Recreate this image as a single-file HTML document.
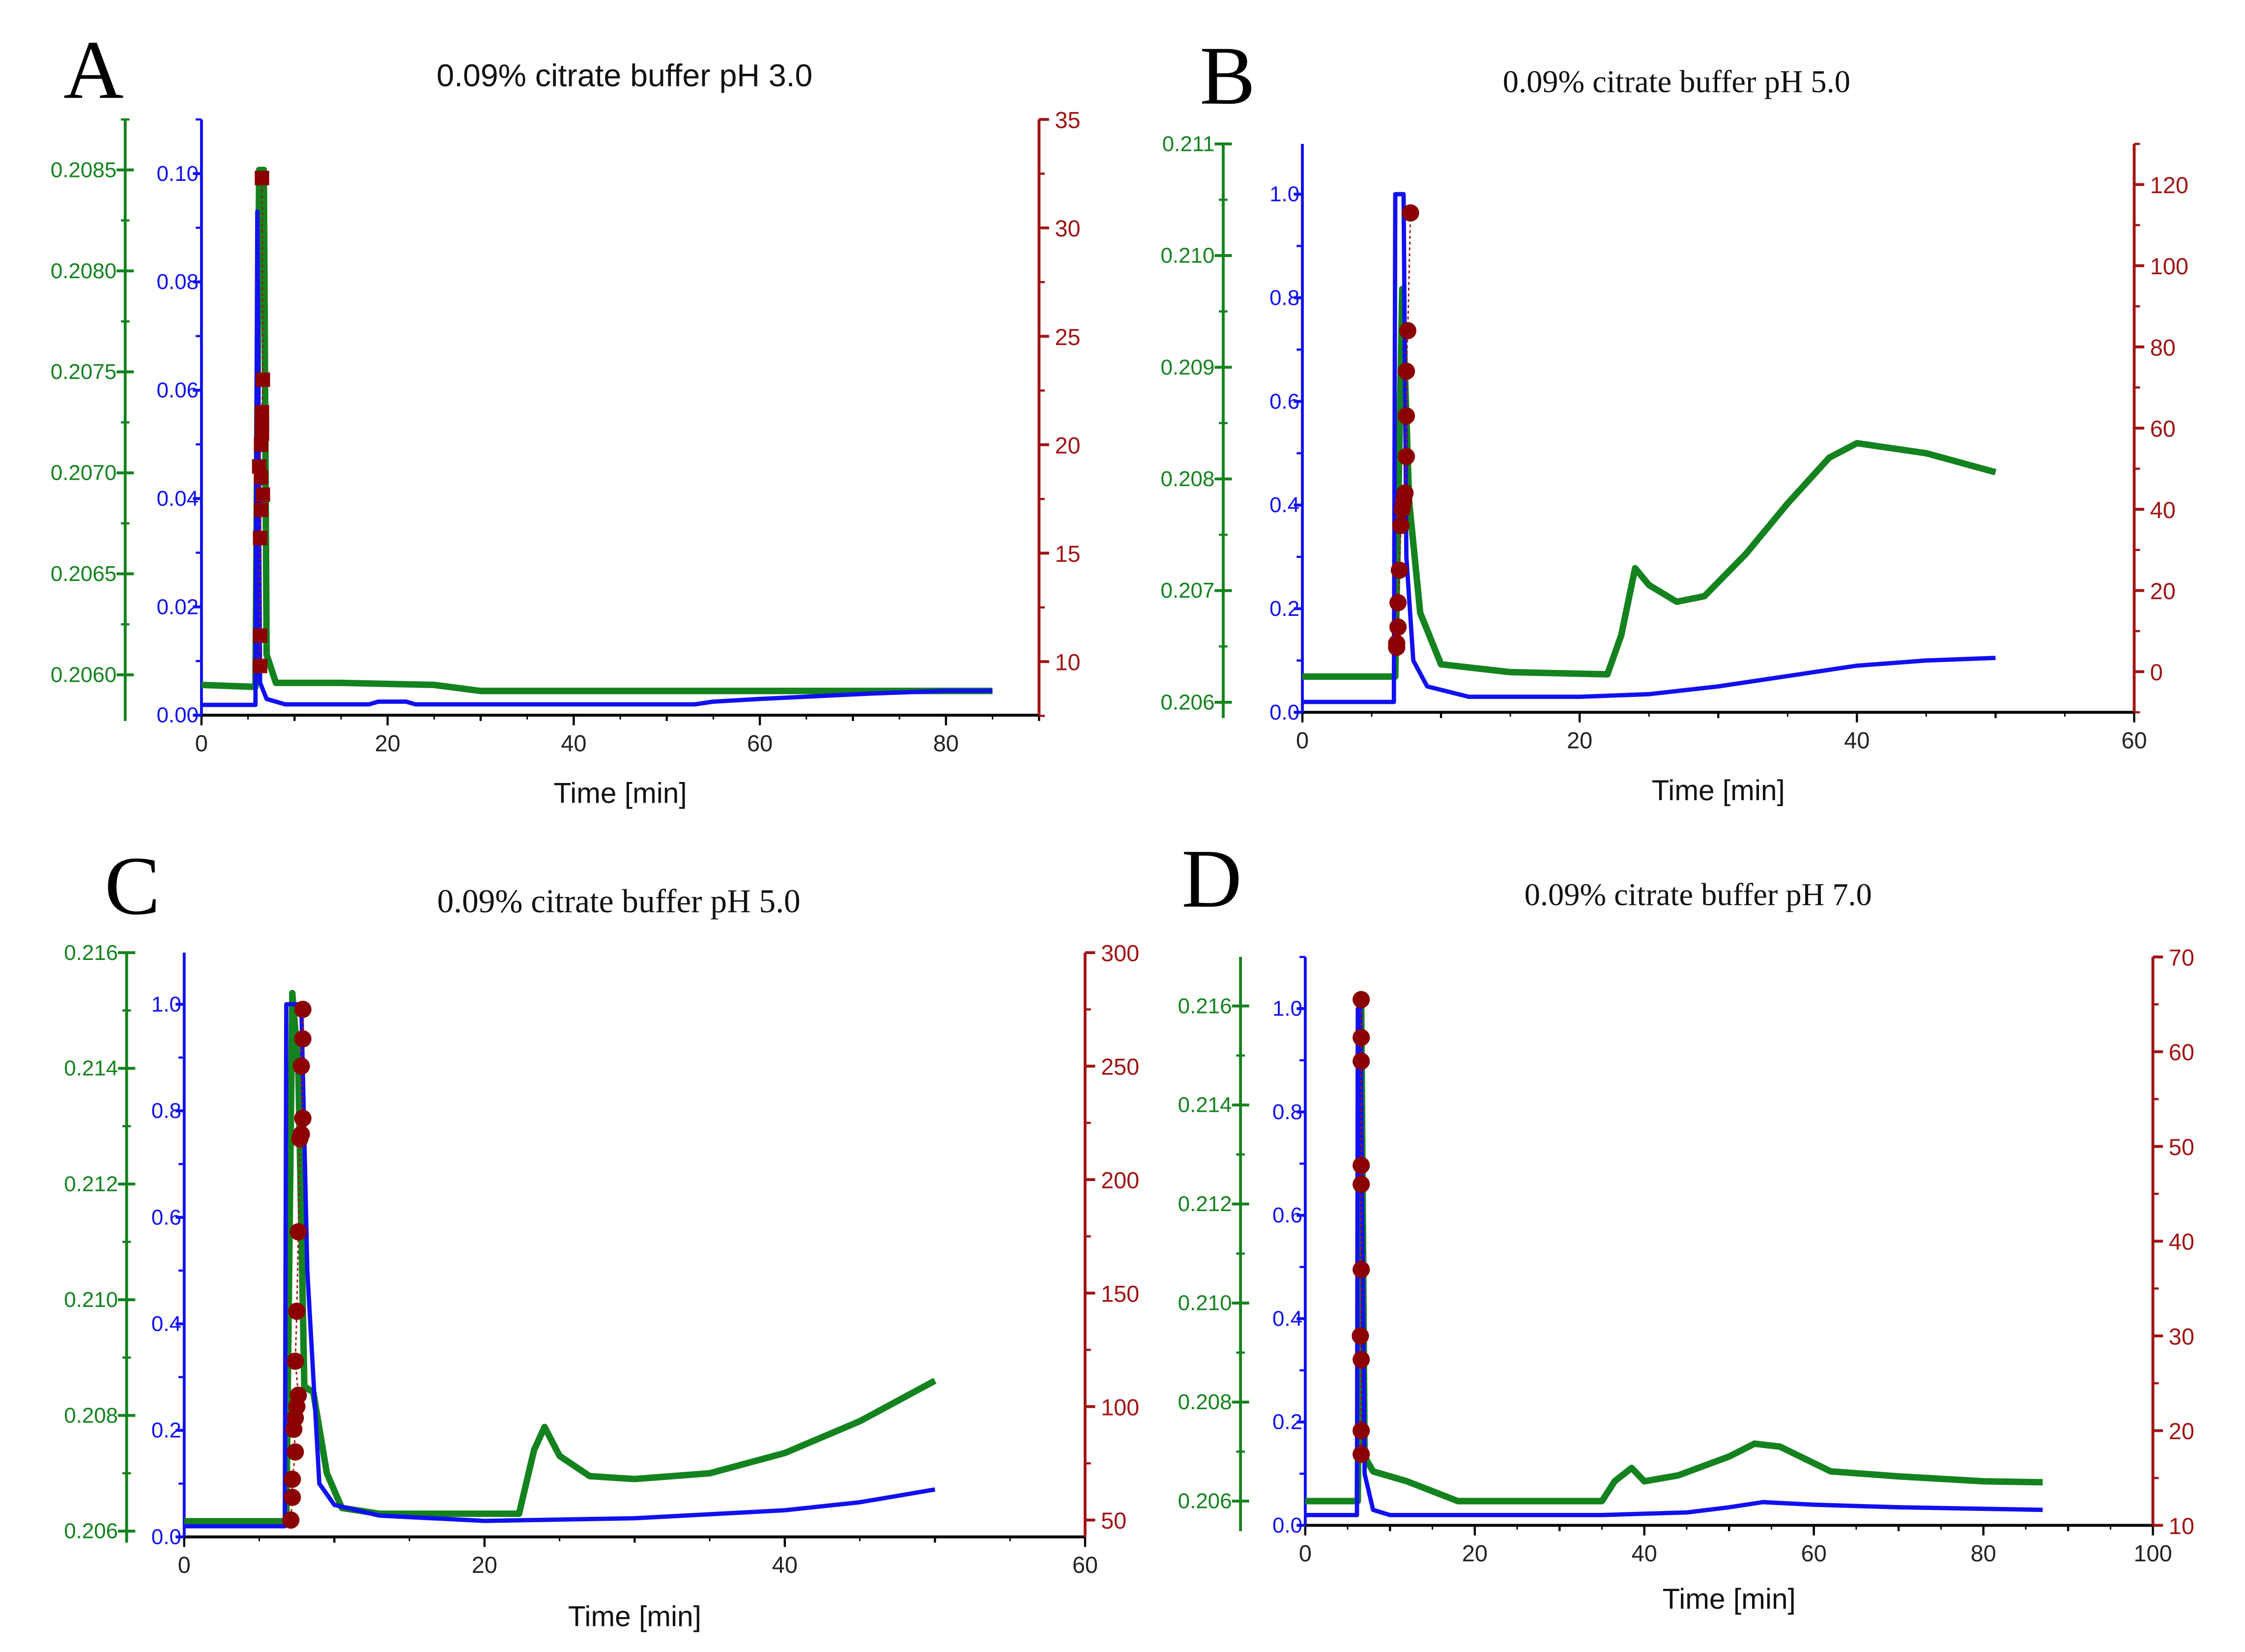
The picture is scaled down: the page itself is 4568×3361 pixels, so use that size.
<!DOCTYPE html>
<html><head><meta charset="utf-8">
<style>html,body{margin:0;padding:0;background:#fff}svg{display:block}</style>
</head><body>
<svg id="fig" xmlns="http://www.w3.org/2000/svg" width="4568" height="3361" viewBox="0 0 1560 1148" preserveAspectRatio="none"></svg>
<script>
// ---------- data (time [min], value) ----------
const A_blue=[[0,0.0019],[5.8,0.0019],[6,0.093],[6.3,0.006],[7,0.003],[9,0.002],[18,0.002],[19,0.0025],[22,0.0025],[23,0.002],[53,0.002],[55,0.0025],[60,0.003],[66,0.0035],[72,0.004],[80,0.0045],[85,0.0045]];
const A_green=[[0,0.20595],[5.8,0.20594],[6.2,0.2085],[6.7,0.2085],[7,0.2061],[8,0.20596],[15,0.20596],[25,0.20595],[30,0.20592],[85,0.20592]];
const A_red_t=[6.5,6.6,6.5,6.5,6.5,6.4,6.2,6.4,6.6,6.4,6.3,6.3,6.3];
const A_red_v=[32.3,23,21.5,21,20.5,20,19,18.5,17.7,17,15.7,11.2,9.8];

const B_blue=[[0,0.02],[6.6,0.02],[6.7,1.0],[7.3,1.0],[7.5,0.3],[8,0.1],[9,0.05],[12,0.03],[20,0.03],[25,0.035],[30,0.05],[35,0.07],[40,0.09],[45,0.1],[50,0.105]];
const B_green=[[0,0.20623],[6.7,0.20623],[7.2,0.2097],[7.7,0.2078],[8.5,0.2068],[10,0.20634],[15,0.20627],[22,0.20625],[23,0.2066],[24,0.2072],[25,0.20705],[27,0.2069],[29,0.20695],[32,0.20733],[35,0.20778],[38,0.20819],[40,0.20832],[45,0.20823],[50,0.20806]];
const B_red_t=[7.8,7.6,7.5,7.5,7.5,7.4,7.3,7.2,7.1,7.0,6.9,6.9,6.8,6.8];
const B_red_v=[113,84,74,63,53,44,42,40,36,25,17,11,7,6];

const C_blue=[[0,0.02],[6.7,0.02],[6.8,1.0],[7.8,1.0],[8.2,0.5],[9,0.1],[10,0.06],[13,0.04],[20,0.03],[30,0.035],[40,0.05],[45,0.065],[50,0.089]];
const C_green=[[0,0.20617],[6.8,0.20617],[7.2,0.2153],[7.6,0.214],[8,0.2085],[8.6,0.2084],[9.5,0.207],[10.5,0.2064],[13,0.2063],[22.3,0.2063],[23.3,0.2074],[24,0.2078],[25,0.2073],[27,0.20695],[30,0.2069],[35,0.207],[40,0.20735],[45,0.2079],[50,0.2086]];
const C_red_t=[7.9,7.9,7.8,7.9,7.8,7.7,7.6,7.5,7.4,7.6,7.5,7.4,7.3,7.4,7.2,7.2,7.1];
const C_red_v=[275,262,250,227,220,218,177,142,120,105,100,95,90,80,68,60,50];

const D_blue=[[0,0.02],[6.1,0.02],[6.2,1.0],[6.5,1.0],[7,0.1],[8,0.03],[10,0.02],[35,0.02],[45,0.025],[50,0.035],[54,0.045],[60,0.04],[70,0.035],[87,0.03]];
const D_green=[[0,0.2060],[6.2,0.2060],[6.6,0.2161],[7,0.2069],[8,0.2066],[12,0.2064],[18,0.206],[35,0.206],[36.5,0.2064],[38.5,0.20667],[40,0.2064],[44,0.20652],[50,0.2069],[53,0.20716],[56,0.2071],[62,0.2066],[70,0.2065],[80,0.2064],[87,0.20638]];
const D_red_t=[6.6,6.6,6.6,6.6,6.6,6.6,6.5,6.6,6.6,6.6];
const D_red_v=[65.5,61.5,59,48,46,37,30,27.5,20,17.5];

// ---------- layout ----------
const panels=[
 {id:'a',letter:'A',lx:65,ly:68,lsize:58,title:'0.09% citrate buffer pH 3.0',tx:434,ty:60,tfont:'"Liberation Sans",sans-serif',tsize:22,
  x0:140,x1:722,xmin:0,xmax:90,xmaj:20,xlab:[0,20,40,60,80],xminor:10,top:83,bot:497,
  bmin:0,bmax:0.11,bticks:[0,0.02,0.04,0.06,0.08,0.10],bdec:2,bminor:0.01,
  gx:87,gmin:0.20580,gmax:0.20875,gticks:[0.2060,0.2065,0.2070,0.2075,0.2080,0.2085],gdec:4,gminor:0.00025,
  rmin:7.53,rmax:35,rticks:[10,15,20,25,30,35],rminor:2.5,
  blue:A_blue,green:A_green,rt:A_red_t,rv:A_red_v,sq:true,xtitleY:558},
 {id:'b',letter:'B',lx:853,ly:72,lsize:58,title:'0.09% citrate buffer pH 5.0',tx:1165,ty:64,tfont:'"Liberation Serif",serif',tsize:22,
  x0:905,x1:1483,xmin:0,xmax:60,xmaj:20,xlab:[0,20,40,60],xminor:10,top:100,bot:495,
  bmin:0,bmax:1.097,bticks:[0,0.2,0.4,0.6,0.8,1.0],bdec:1,bminor:0.1,
  gx:850,gmin:0.20591,gmax:0.2110,gticks:[0.206,0.207,0.208,0.209,0.210,0.211],gdec:3,gminor:0.0005,
  rmin:-10,rmax:130,rticks:[0,20,40,60,80,100,120],rminor:10,
  blue:B_blue,green:B_green,rt:B_red_t,rv:B_red_v,sq:false,xtitleY:556},
 {id:'c',letter:'C',lx:92,ly:635,lsize:58,title:'0.09% citrate buffer pH 5.0',tx:430,ty:634,tfont:'"Liberation Serif",serif',tsize:23,
  x0:128,x1:754,xmin:0,xmax:60,xmaj:20,xlab:[0,20,40,60],xminor:10,top:662,bot:1068,
  bmin:0,bmax:1.097,bticks:[0,0.2,0.4,0.6,0.8,1.0],bdec:1,bminor:0.1,
  gx:88,gmin:0.2059,gmax:0.216,gticks:[0.206,0.208,0.210,0.212,0.214,0.216],gdec:3,gminor:0.001,
  rmin:42.6,rmax:300,rticks:[50,100,150,200,250,300],rminor:25,
  blue:C_blue,green:C_green,rt:C_red_t,rv:C_red_v,sq:false,xtitleY:1130},
 {id:'d',letter:'D',lx:842,ly:630,lsize:58,title:'0.09% citrate buffer pH 7.0',tx:1180,ty:629,tfont:'"Liberation Serif",serif',tsize:22,
  x0:907,x1:1496,xmin:0,xmax:100,xmaj:20,xlab:[0,20,40,60,80,100],xminor:10,top:665,bot:1060,
  bmin:0,bmax:1.1,bticks:[0,0.2,0.4,0.6,0.8,1.0],bdec:1,bminor:0.1,
  gx:862,gmin:0.20551,gmax:0.21699,gticks:[0.206,0.208,0.210,0.212,0.214,0.216],gdec:3,gminor:0.001,
  rmin:10,rmax:70,rticks:[10,20,30,40,50,60,70],rminor:5,
  blue:D_blue,green:D_green,rt:D_red_t,rv:D_red_v,sq:false,xtitleY:1118}
];
const NS='http://www.w3.org/2000/svg';
const svg=document.getElementById('fig');
const BLUE='#1010f0',GREEN='#14821e',RED='#a01414',DRED='#8b0000';
function mk(tag,attrs,parent,txt){const e=document.createElementNS(NS,tag);for(const k in attrs)e.setAttribute(k,attrs[k]);if(txt!==undefined)e.textContent=txt;(parent||svg).appendChild(e);return e;}
function fmt(v,d){return v.toFixed(d);}
panels.forEach(p=>{
 const g=mk('g',{});
 
 
 const X=t=>p.x0+(t-p.xmin)/(p.xmax-p.xmin)*(p.x1-p.x0);
 const YB=v=>p.bot-(v-p.bmin)/(p.bmax-p.bmin)*(p.bot-p.top);
 const YG=v=>p.bot-(v-p.gmin)/(p.gmax-p.gmin)*(p.bot-p.top);
 const YR=v=>p.bot-(v-p.rmin)/(p.rmax-p.rmin)*(p.bot-p.top);
 const L=mk('text',{x:p.lx,y:p.ly,'text-anchor':'middle','font-family':'"Liberation Serif",serif','font-size':p.lsize,fill:'#000'},g,p.letter);
 
 
 const T=mk('text',{x:p.tx,y:p.ty,'text-anchor':'middle','font-family':p.tfont,'font-size':p.tsize,fill:'#111'},g,p.title);
 
 
 // x axis
 const xa=mk('g',{},g);
 
 
 mk('line',{x1:p.x0,y1:p.bot,x2:p.x1,y2:p.bot,stroke:'#000','stroke-width':2},xa);
 for(let t=p.xmin;t<=p.xmax+1e-9;t+=p.xminor){const maj=Math.abs(t%p.xmaj)<1e-9;mk('line',{x1:X(t),y1:p.bot,x2:X(t),y2:p.bot+(maj?7:4),stroke:'#000','stroke-width':1.5},xa);}
 for(let t=p.xmin;t<=p.xmax+1e-9;t+=p.xminor/2){mk('line',{x1:X(t),y1:p.bot,x2:X(t),y2:p.bot+3,stroke:'#000','stroke-width':1},xa);}
 p.xlab.forEach(t=>mk('text',{x:X(t),y:p.bot+25,'text-anchor':'middle','font-family':'"Liberation Sans",sans-serif','font-size':16,fill:'#222'},xa,String(t)));
 const xt=mk('text',{x:(p.x0+p.x1)/2,y:p.xtitleY,'text-anchor':'middle','font-family':'"Liberation Sans",sans-serif','font-size':20,fill:'#111'},g,'Time [min]');
 
 
 // green axis
 const ga=mk('g',{},g);
 
 
 mk('line',{x1:p.gx,y1:p.top,x2:p.gx,y2:p.bot+4,stroke:GREEN,'stroke-width':2},ga);
 for(let v=p.gticks[0]-p.gminor*4;v<=p.gmax;v+=p.gminor){const y=YG(v);if(y<p.top-1||y>p.bot+1)continue;mk('line',{x1:p.gx-3,y1:y,x2:p.gx+3,y2:y,stroke:GREEN,'stroke-width':1.5},ga);}
 p.gticks.forEach(v=>{const y=YG(v);mk('line',{x1:p.gx-6,y1:y,x2:p.gx+6,y2:y,stroke:GREEN,'stroke-width':2},ga);mk('text',{x:p.gx-6,y:y+5,'text-anchor':'end','font-family':'"Liberation Sans",sans-serif','font-size':15,fill:GREEN},ga,fmt(v,p.gdec));});
 // blue axis
 const ba=mk('g',{},g);
 
 
 mk('line',{x1:p.x0,y1:p.top,x2:p.x0,y2:p.bot,stroke:BLUE,'stroke-width':2},ba);
 for(let v=p.bmin;v<=p.bmax;v+=p.bminor){const y=YB(v);mk('line',{x1:p.x0-4,y1:y,x2:p.x0,y2:y,stroke:BLUE,'stroke-width':1.5},ba);}
 p.bticks.forEach(v=>{const y=YB(v);mk('line',{x1:p.x0-6,y1:y,x2:p.x0,y2:y,stroke:BLUE,'stroke-width':2},ba);mk('text',{x:p.x0-2,y:y+5,'text-anchor':'end','font-family':'"Liberation Sans",sans-serif','font-size':15,fill:BLUE},ba,fmt(v,p.bdec));});
 // red axis
 const ra=mk('g',{},g);
 
 
 mk('line',{x1:p.x1,y1:p.top,x2:p.x1,y2:p.bot,stroke:RED,'stroke-width':2},ra);
 for(let v=p.rticks[0]-p.rminor*2;v<=p.rmax+1e-9;v+=p.rminor){const y=YR(v);if(y<p.top-1||y>p.bot+1)continue;mk('line',{x1:p.x1,y1:y,x2:p.x1+4,y2:y,stroke:RED,'stroke-width':1.5},ra);}
 p.rticks.forEach(v=>{const y=YR(v);mk('line',{x1:p.x1,y1:y,x2:p.x1+7,y2:y,stroke:RED,'stroke-width':2},ra);mk('text',{x:p.x1+11,y:y+6,'text-anchor':'start','font-family':'"Liberation Sans",sans-serif','font-size':16,fill:RED},ra,String(v));});
 // series
 const gp=mk('polyline',{points:p.green.map(d=>X(d[0])+','+YG(d[1])).join(' '),fill:'none',stroke:GREEN,'stroke-width':4.5,'stroke-linejoin':'round'},g);
 
 
 const bp=mk('polyline',{points:p.blue.map(d=>X(d[0])+','+YB(d[1])).join(' '),fill:'none',stroke:BLUE,'stroke-width':3,'stroke-linejoin':'round'},g);
 
 
 const rg=mk('g',{},g);
 
 
 mk('polyline',{points:p.rv.map((v,i)=>X(p.rt[i])+','+YR(v)).join(' '),fill:'none',stroke:RED,'stroke-width':1,'stroke-dasharray':'2,2'},rg);
 p.rv.forEach((v,i)=>{let m;
  if(p.sq){m=mk('rect',{x:X(p.rt[i])-5,y:YR(v)-5,width:10,height:10,fill:DRED},rg);}
  else{m=mk('circle',{cx:X(p.rt[i]),cy:YR(v),r:6,fill:DRED},rg);}
  
  });
});
</script>
</body></html>
